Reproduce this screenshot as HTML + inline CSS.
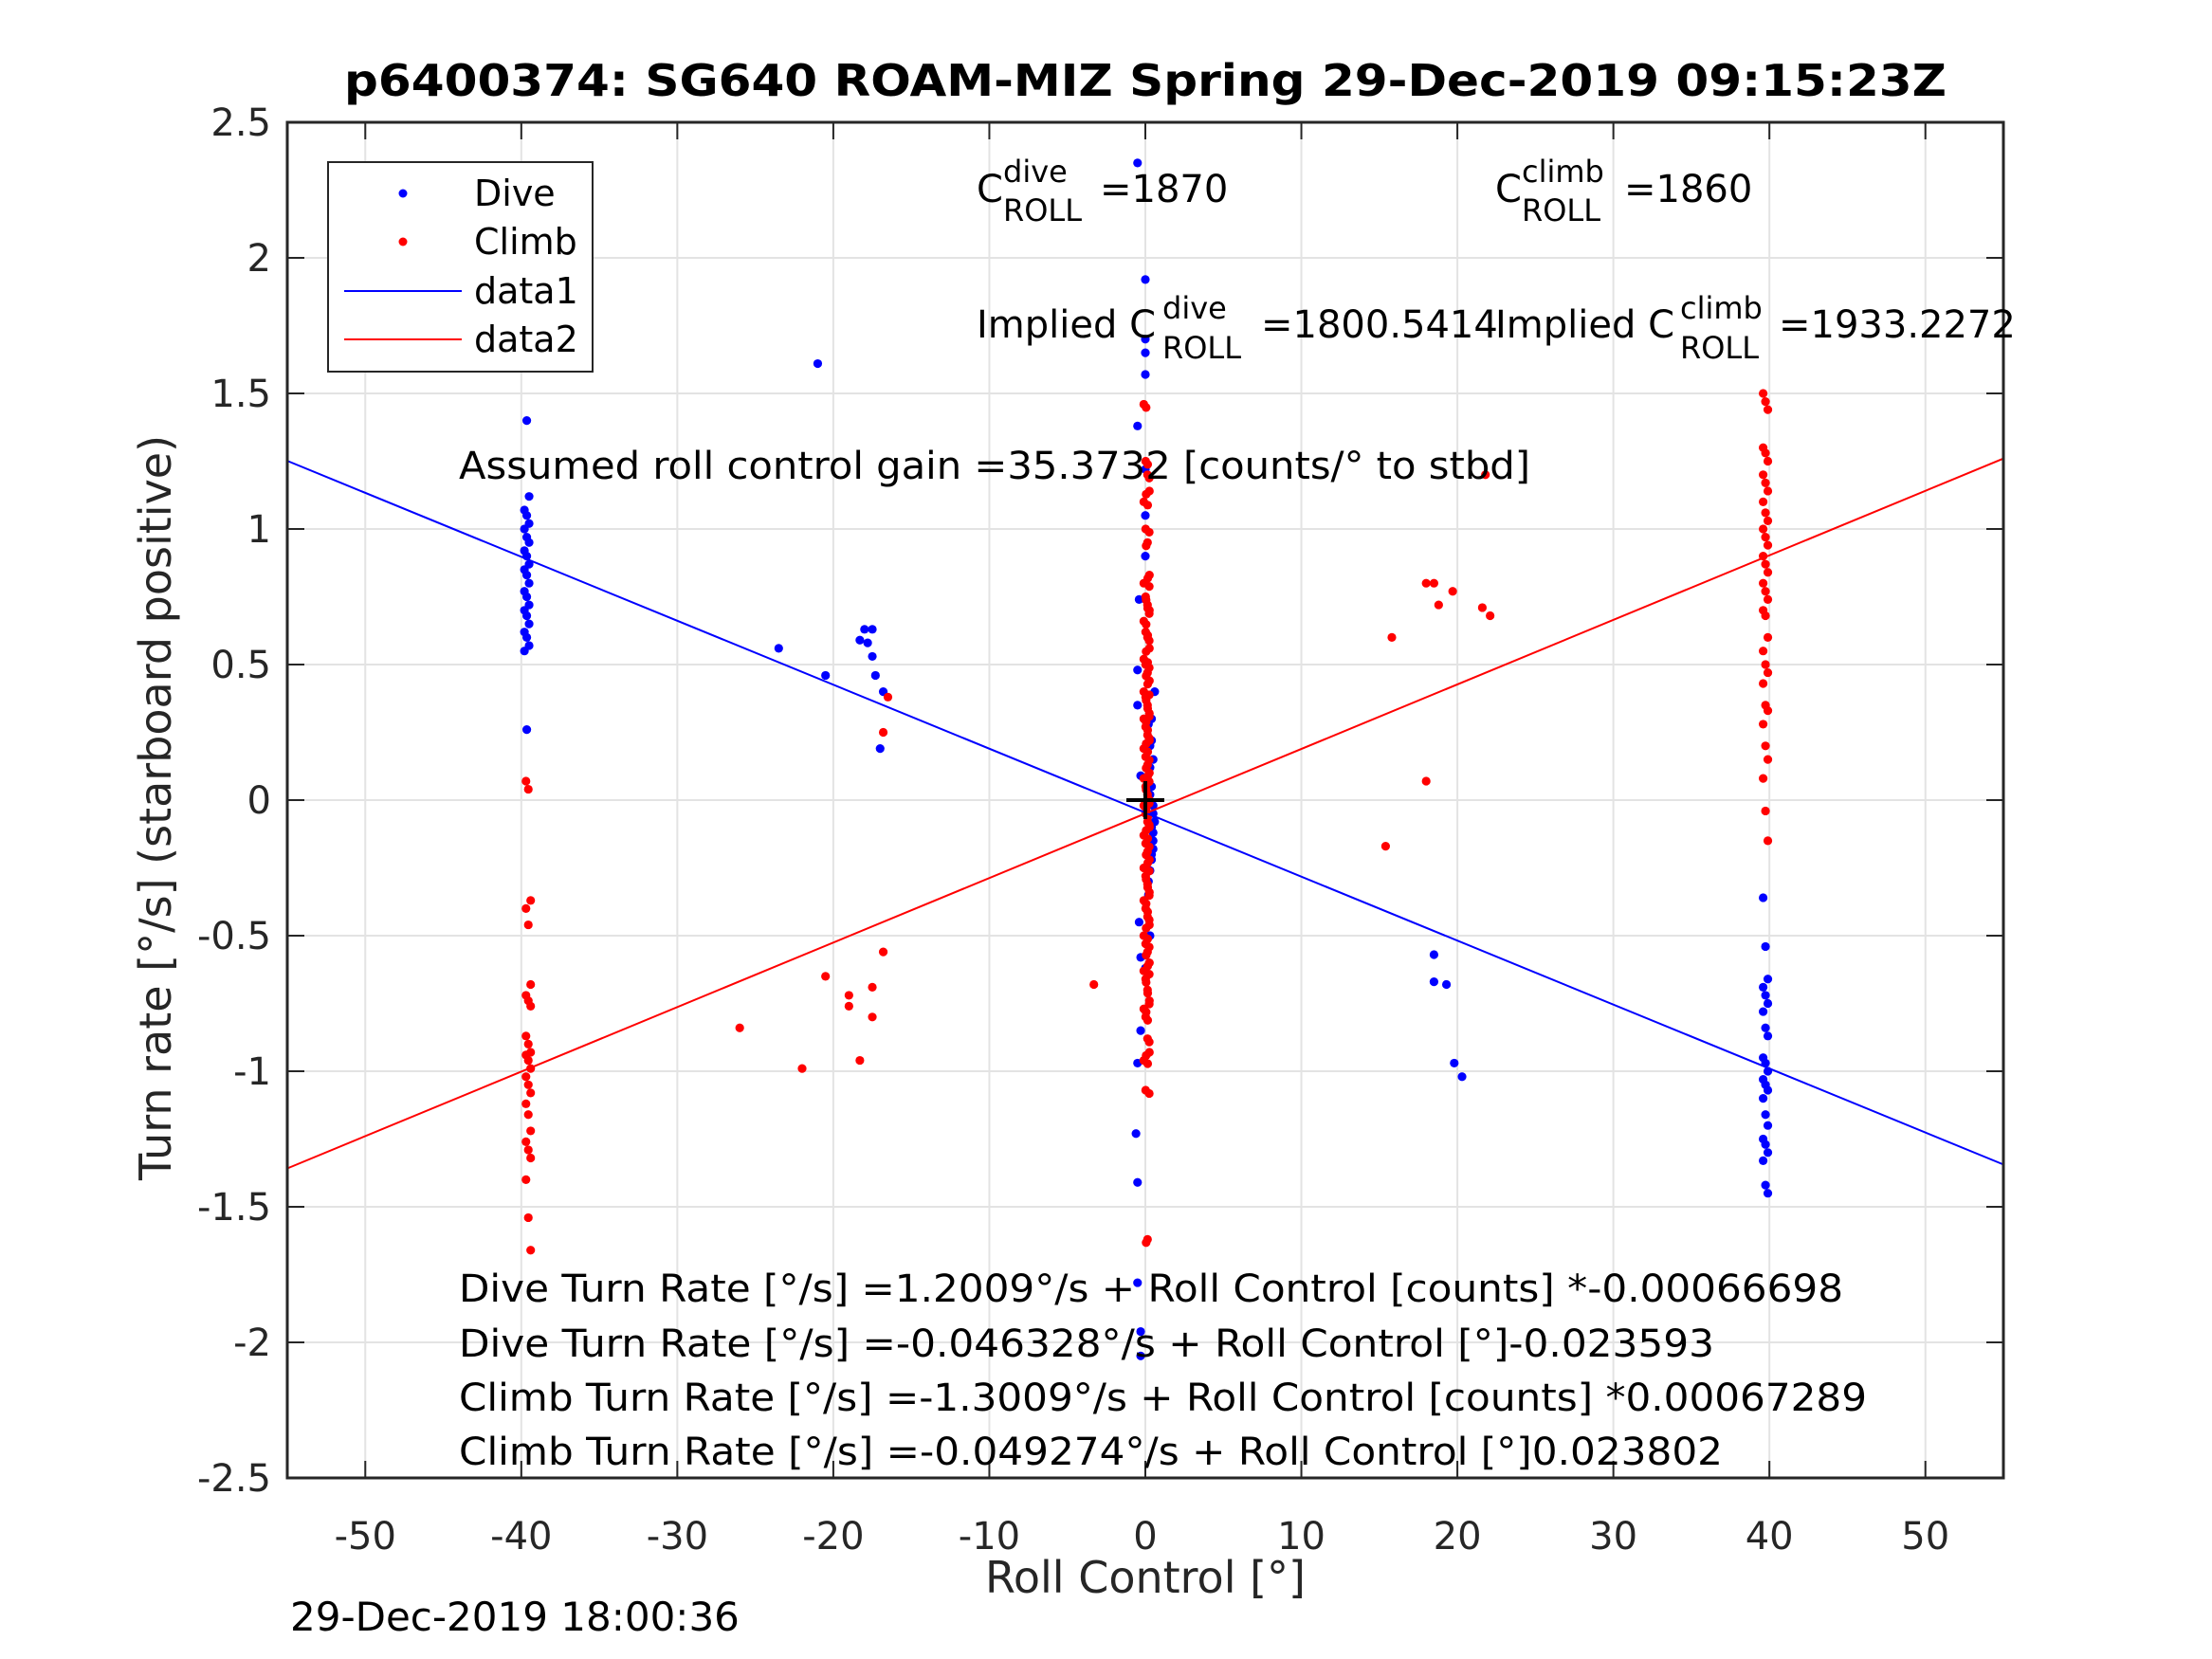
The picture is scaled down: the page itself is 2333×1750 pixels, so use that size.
<!DOCTYPE html>
<html><head><meta charset="utf-8"><style>
html,body{margin:0;padding:0;background:#fff;}
svg{display:block;font-family:"DejaVu Sans","Liberation Sans",sans-serif;}
</style></head><body>
<svg id="chart" width="2333" height="1750" viewBox="0 0 2333 1750" xmlns="http://www.w3.org/2000/svg">
<rect width="2333" height="1750" fill="#fff"/>
<g id="grid"></g>
<g id="series"></g>
<g id="axes"></g>
<text x="1208" y="101" font-size="46" font-weight="bold" text-anchor="middle" fill="#000" textLength="1690" lengthAdjust="spacingAndGlyphs">p6400374: SG640 ROAM-MIZ Spring 29-Dec-2019 09:15:23Z</text>
<text x="1208" y="1680" font-size="46" text-anchor="middle" fill="#262626">Roll Control [°]</text>
<text transform="translate(180,852) rotate(-90)" font-size="46" text-anchor="middle" fill="#262626">Turn rate [°/s] (starboard positive)</text>
<text x="306" y="1720" font-size="42" fill="#000">29-Dec-2019 18:00:36</text>
<g font-size="40" fill="#000">
<text x="1030" y="213">C</text>
<text x="1058" y="192" font-size="32">dive</text>
<text x="1058" y="233" font-size="32">ROLL</text>
<text x="1160" y="213">=1870</text>
<text x="1577" y="213">C</text>
<text x="1605" y="192" font-size="32">climb</text>
<text x="1605" y="233" font-size="32">ROLL</text>
<text x="1713" y="213">=1860</text>
<text x="1030" y="356">Implied C</text>
<text x="1226" y="336" font-size="32">dive</text>
<text x="1226" y="378" font-size="32">ROLL</text>
<text x="1330" y="356">=1800.5414</text>
<text x="1577" y="356">Implied C</text>
<text x="1772" y="336" font-size="32">climb</text>
<text x="1772" y="378" font-size="32">ROLL</text>
<text x="1876" y="356">=1933.2272</text>
<text x="484" y="505" textLength="1130" lengthAdjust="spacingAndGlyphs">Assumed roll control gain =35.3732 [counts/° to stbd]</text>
<text x="484" y="1373" textLength="1460" lengthAdjust="spacingAndGlyphs">Dive Turn Rate [°/s] =1.2009°/s + Roll Control [counts] *-0.00066698</text>
<text x="484" y="1431" textLength="1324" lengthAdjust="spacingAndGlyphs">Dive Turn Rate [°/s] =-0.046328°/s + Roll Control [°]-0.023593</text>
<text x="484" y="1488" textLength="1485" lengthAdjust="spacingAndGlyphs">Climb Turn Rate [°/s] =-1.3009°/s + Roll Control [counts] *0.00067289</text>
<text x="484" y="1545" textLength="1333" lengthAdjust="spacingAndGlyphs">Climb Turn Rate [°/s] =-0.049274°/s + Roll Control [°]0.023802</text>
</g>
<g>
<rect x="346" y="171" width="279" height="221" fill="#fff" stroke="#262626" stroke-width="2"/>
<circle cx="425" cy="204" r="4.5" fill="#00f"/>
<text x="500" y="217" font-size="38">Dive</text>
<circle cx="425" cy="255" r="4.5" fill="#f00"/>
<text x="500" y="268" font-size="38">Climb</text>
<line x1="363" y1="307" x2="487" y2="307" stroke="#00f" stroke-width="2"/>
<text x="500" y="320" font-size="38">data1</text>
<line x1="363" y1="358" x2="487" y2="358" stroke="#f00" stroke-width="2"/>
<text x="500" y="371" font-size="38">data2</text>
</g>
</svg>
<script>
const xTicks = [-50,-40,-30,-20,-10,0,10,20,30,40,50];
const yTicks = [-2.5,-2,-1.5,-1,-0.5,0,0.5,1,1.5,2,2.5];
const yTickLabels = ["-2.5","-2","-1.5","-1","-0.5","0","0.5","1","1.5","2","2.5"];
const diveFit = [-0.046328, -0.023593];
const climbFit = [-0.049274, 0.023802];
const diveLeftY = [2.01,1.40,1.12,1.07,1.05,1.02,1.0,0.97,0.95,0.92,0.9,0.87,0.85,0.83,0.8,0.77,0.75,0.72,0.7,0.68,0.65,0.62,0.6,0.57,0.55,0.26];
const climbLeftY = [0.07,0.04,-0.37,-0.4,-0.46,-0.68,-0.72,-0.74,-0.76,-0.87,-0.9,-0.93,-0.94,-0.96,-0.99,-1.02,-1.05,-1.08,-1.12,-1.16,-1.22,-1.26,-1.29,-1.32,-1.40,-1.54,-1.66];
const diveCenterY = [2.35,1.92,1.7,1.65,1.57,1.38,1.22,1.05,0.9,0.74,0.48,0.4,0.35,0.3,0.28,0.22,0.2,0.15,0.12,0.09,0.05,0.02,-0.02,-0.05,-0.08,-0.1,-0.12,-0.15,-0.18,-0.2,-0.22,-0.26,-0.3,-0.35,-0.45,-0.5,-0.58,-0.62,-0.85,-0.97,-1.23,-1.41,-1.78,-1.96,-2.05];
const diveCenterX = [-0.5,0,0,0,0,-0.5,0,0,0,-0.4,-0.5,0.6,-0.5,0.4,0.2,0.4,0.3,0.5,0.3,-0.3,0.4,0.3,0.5,0.5,0.6,0.4,0.5,0.5,0.5,0.4,0.4,0.3,0.2,0.2,-0.4,0.3,-0.3,0,-0.3,-0.5,-0.6,-0.5,-0.5,-0.3,-0.3];
const climbCenterY = [1.46,1.25,1.2,1.14,1.1,1.0,0.95,0.83,0.8,0.75,0.72,0.7,0.66,0.62,0.6,0.56,0.52,0.5,0.47,0.44,0.4,0.38,0.35,0.32,0.3,0.27,0.24,0.22,0.19,0.16,0.13,0.1,0.08,0.05,0.02,0,-0.02,-0.05,-0.08,-0.1,-0.13,-0.16,-0.19,-0.22,-0.25,-0.28,-0.31,-0.34,-0.37,-0.4,-0.43,-0.46,-0.5,-0.53,-0.56,-0.6,-0.63,-0.66,-0.7,-0.74,-0.77,-0.8,-0.88,-0.93,-0.96,-1.07,-1.62];
const diveRightY = [-0.36,-0.54,-0.66,-0.69,-0.72,-0.75,-0.78,-0.84,-0.87,-0.95,-0.97,-1.0,-1.03,-1.05,-1.07,-1.1,-1.16,-1.2,-1.25,-1.27,-1.3,-1.33,-1.42,-1.45];
const climbRightY = [1.5,1.47,1.44,1.3,1.28,1.25,1.2,1.17,1.14,1.1,1.06,1.03,1.0,0.97,0.94,0.9,0.87,0.84,0.8,0.77,0.74,0.7,0.68,0.6,0.55,0.5,0.47,0.43,0.35,0.33,0.28,0.2,0.15,0.08,-0.04,-0.15];
const diveScatterX = [-21,-23.5,-20.5,-18,-17.5,-18.3,-17.8,-17.5,-17.3,-16.8,-17,18.5,18.5,19.3,19.8,20.3];
const diveScatterY = [1.61,0.56,0.46,0.63,0.63,0.59,0.58,0.53,0.46,0.4,0.19,-0.57,-0.67,-0.68,-0.97,-1.02];
const climbScatterX = [-16.5,-16.8,-16.8,-17.5,-17.5,-19,-19,-20.5,-18.3,-22,-26,-3.3,15.8,18,18.5,19.7,18.8,21.6,22.1,21.8,18,15.4];
const climbScatterY = [0.38,0.25,-0.56,-0.69,-0.8,-0.72,-0.76,-0.65,-0.96,-0.99,-0.84,-0.68,0.6,0.8,0.8,0.77,0.72,0.71,0.68,1.2,0.07,-0.17];

const L=303,R=2113,T=129,B=1559,XMIN=-55,XMAX=55,YMIN=-2.5,YMAX=2.5;
const sx=v=>L+(v-XMIN)/(XMAX-XMIN)*(R-L);
const sy=v=>B-(v-YMIN)/(YMAX-YMIN)*(B-T);
const NS="http://www.w3.org/2000/svg";
function mk(tag,parent,attrs){const e=document.createElementNS(NS,tag);for(const k in attrs)e.setAttribute(k,attrs[k]);parent.appendChild(e);return e;}
const grid=document.getElementById('grid'),axes=document.getElementById('axes'),series=document.getElementById('series');
mk('rect',grid,{x:L,y:T,width:R-L,height:B-T,fill:'#fff'});
xTicks.forEach(v=>{
  const g=mk('line',grid,{x1:sx(v),x2:sx(v),y1:T,y2:B,stroke:'#e3e3e3','stroke-width':2});
  
  
  const t1=mk('line',axes,{x1:sx(v),x2:sx(v),y1:B,y2:B-18,stroke:'#262626','stroke-width':2});
  
  
  const t2=mk('line',axes,{x1:sx(v),x2:sx(v),y1:T,y2:T+18,stroke:'#262626','stroke-width':2});
  
  
  const lb=mk('text',axes,{x:sx(v),y:1634,'font-size':40,'text-anchor':'middle',fill:'#262626'});
  lb.textContent=String(v);
  
  
});
yTicks.forEach((v,i)=>{
  const g=mk('line',grid,{x1:L,x2:R,y1:sy(v),y2:sy(v),stroke:'#e3e3e3','stroke-width':2});
  
  
  const t1=mk('line',axes,{x1:L,x2:L+18,y1:sy(v),y2:sy(v),stroke:'#262626','stroke-width':2});
  
  
  const t2=mk('line',axes,{x1:R,x2:R-18,y1:sy(v),y2:sy(v),stroke:'#262626','stroke-width':2});
  
  
  const lb=mk('text',axes,{x:286,y:sy(v)+14,'font-size':40,'text-anchor':'end',fill:'#262626'});
  lb.textContent=yTickLabels[i];
  
  
});
const box=mk('rect',axes,{x:L,y:T,width:R-L,height:B-T,fill:'none',stroke:'#262626','stroke-width':3});



function dot(x,y,c,name){
  const d=mk('circle',series,{cx:sx(x),cy:sy(y),r:4.6,fill:c});
  
  
}
diveLeftY.forEach((y,i)=>dot(-39.8+(i%3)*0.15,y,'#00f','dive-point'));
diveRightY.forEach((y,i)=>dot(39.6+(i%3)*0.15,y,'#00f','dive-point'));
diveCenterY.forEach((y,i)=>dot(diveCenterX[i],y,'#00f','dive-point'));
diveScatterX.forEach((x,i)=>dot(x,diveScatterY[i],'#00f','dive-point'));
climbLeftY.forEach((y,i)=>dot(-39.7+(i%3)*0.15,y,'#f00','climb-point'));
climbRightY.forEach((y,i)=>dot(39.6+(i%3)*0.15,y,'#f00','climb-point'));
climbCenterY.forEach((y,i)=>{dot(-0.1+(i%4)*0.12,y,'#f00','climb-point');dot(0.05+(i%3)*0.1,y-0.012,'#f00','climb-point');});
climbScatterX.forEach((x,i)=>dot(x,climbScatterY[i],'#f00','climb-point'));

const l1=mk('line',series,{x1:sx(XMIN),y1:sy(diveFit[0]+diveFit[1]*XMIN),x2:sx(XMAX),y2:sy(diveFit[0]+diveFit[1]*XMAX),stroke:'#00f','stroke-width':2});


const l2=mk('line',series,{x1:sx(XMIN),y1:sy(climbFit[0]+climbFit[1]*XMIN),x2:sx(XMAX),y2:sy(climbFit[0]+climbFit[1]*XMAX),stroke:'#f00','stroke-width':2});


const ch=mk('path',series,{d:`M${sx(0)-20},${sy(0)} h40 M${sx(0)},${sy(0)-20} v40`,stroke:'#000','stroke-width':4,fill:'none'});


</script>
</body></html>
